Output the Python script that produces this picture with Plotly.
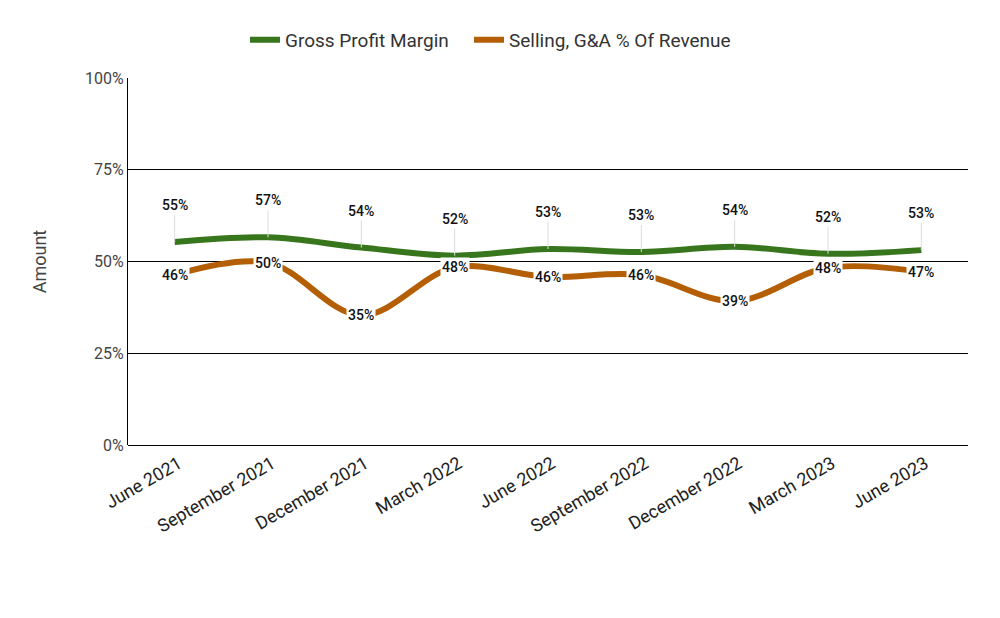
import plotly.graph_objects as go

quarters = ["June 2021", "September 2021", "December 2021", "March 2022", "June 2022",
            "September 2022", "December 2022", "March 2023", "June 2023"]
gross_margin = [55.3, 56.6, 53.8, 51.6, 53.4, 52.6, 54.0, 52.1, 53.1]
sga_pct = [46.4, 49.7, 35.3, 48.4, 45.8, 46.3, 39.2, 48.3, 47.2]
y_ticks = [0, 25, 50, 75, 100]
y_tick_labels = ["0%", "25%", "50%", "75%", "100%"]

GREEN = "#38761d"
ORANGE = "#b45f06"
FONT = "Roboto"

fig = go.Figure()
fig.add_trace(go.Scatter(x=quarters, y=gross_margin, mode="lines", name="Gross Profit Margin",
                         line=dict(color=GREEN, width=6, shape="spline", smoothing=1),
                         legend="legend"))
fig.add_trace(go.Scatter(x=quarters, y=sga_pct, mode="lines", name="Selling, G&A % Of Revenue",
                         line=dict(color=ORANGE, width=6, shape="spline", smoothing=1),
                         legend="legend2"))

for q, v in zip(quarters, gross_margin):
    fig.add_annotation(x=q, y=v, text=f"{round(v)}%", showarrow=True, arrowhead=0,
                       arrowwidth=1, arrowcolor="#dddddd", ax=0, ay=-27, yanchor="bottom",
                       font=dict(family=FONT, size=14, color="#111111", weight=500))
for q, v in zip(quarters, sga_pct):
    fig.add_annotation(x=q, y=v, text=f"{round(v)}%", showarrow=False,
                       bgcolor="white", borderpad=1,
                       font=dict(family=FONT, size=14, color="#111111", weight=500))

PLOT_L, PLOT_W = 128, 840
leg_common = dict(orientation="h", xanchor="left", y=1.104, yanchor="middle",
                  font=dict(family=FONT, size=19, color="#333333"), itemwidth=30,
                  bgcolor="rgba(0,0,0,0)")
fig.update_layout(
    width=1000, height=618,
    margin=dict(l=PLOT_L, r=32, t=78, b=173, autoexpand=False),
    plot_bgcolor="white", paper_bgcolor="white",
    font=dict(family=FONT, color="#444444"),
    legend=dict(x=(245 - PLOT_L) / PLOT_W, **leg_common),
    legend2=dict(x=(469 - PLOT_L) / PLOT_W, **leg_common),
    showlegend=True,
)
fig.update_xaxes(tickangle=-30, tickfont=dict(family=FONT, size=18, color="#222222"),
                 showgrid=False, showline=False, ticks="", range=[-0.5, 8.5],
                 ticklabelstandoff=4, ticklabelshift=4)
fig.update_yaxes(range=[0, 100], tickvals=y_ticks, ticktext=y_tick_labels,
                 tickfont=dict(family=FONT, size=16, color="#444444"),
                 showgrid=True, gridcolor="black", gridwidth=1.3,
                 zeroline=True, zerolinecolor="black", zerolinewidth=1.3,
                 showline=True, linecolor="black", linewidth=1.3,
                 title=dict(text="Amount", font=dict(family=FONT, size=18, color="#444444"), standoff=33))

fig.write_html("out.html")
